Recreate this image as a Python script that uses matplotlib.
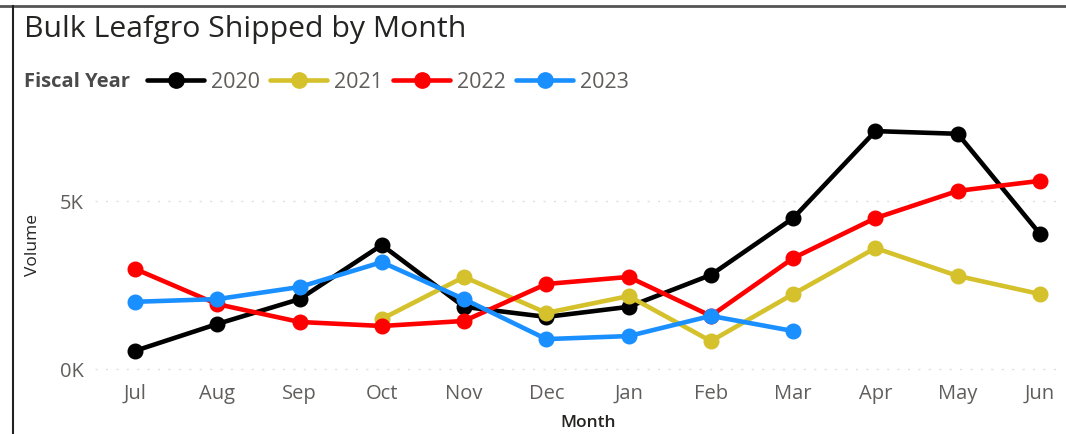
import matplotlib
matplotlib.use("Agg")
import matplotlib.pyplot as plt
from matplotlib.lines import Line2D

months = ["Jul", "Aug", "Sep", "Oct", "Nov", "Dec", "Jan", "Feb", "Mar", "Apr", "May", "Jun"]

# volumes in thousands (None = no data)
fy2020 = [0.54, 1.34, 2.08, 3.69, 1.85, 1.55, 1.85, 2.80, 4.49, 7.08, 7.00, 4.02]
fy2021 = [None, None, None, 1.49, 2.74, 1.67, 2.17, 0.83, 2.23, 3.60, 2.77, 2.23]
fy2022 = [2.98, 1.93, 1.40, 1.28, 1.43, 2.53, 2.74, 1.58, 3.30, 4.49, 5.30, 5.60]
fy2023 = [2.00, 2.08, 2.44, 3.18, 2.08, 0.89, 0.98, 1.58, 1.13]

years = ["2020", "2021", "2022", "2023"]
series = [fy2020, fy2021, fy2022, fy2023]
colors = ["#000000", "#D4C12C", "#FF0000", "#1A8FFF"]

W, H = 1066, 435
fig = plt.figure(figsize=(W / 100, H / 100), dpi=100)
fig.patch.set_facecolor("white")

# plot area in pixels: left, right, top, bottom
L, R, T, B = 95, 1058, 110, 378
ax = fig.add_axes([L / W, 1 - B / H, (R - L) / W, (B - T) / H])

x0, dx = 135, 82.27
ax.set_xlim((L - x0) / dx, (R - x0) / dx)
y0, dy = 370, 33.6
ax.set_ylim(-(B - y0) / dy, (y0 - T) / dy)

for yr, vals, c in zip(years, series, colors):
    xs = [i for i, v in enumerate(vals) if v is not None]
    ys = [v for v in vals if v is not None]
    ax.plot(xs, ys, color=c, lw=3.3, marker="o", ms=10.5, label=yr,
            solid_capstyle="round", zorder=3)

ax.set_xticks(range(len(months)))
ax.set_xticklabels(months)
ax.set_yticks([0, 5])
ax.set_yticklabels(["0K", "5K"])
ax.tick_params(length=0, labelsize=14.5, labelcolor="#605E5C")
ax.tick_params(axis="x", pad=4)
ax.tick_params(axis="y", pad=8)
for lab in ax.get_xticklabels() + ax.get_yticklabels():
    lab.set_family("Open Sans")
ax.grid(axis="y", color="#E1DFDD", ls=(0, (1.5, 6)), lw=1)
for s in ax.spines.values():
    s.set_visible(False)

fig.text(33 / W, 1 - 245 / H, "Volume", rotation=90, ha="center", va="center",
         fontsize=12.5, color="#252423", family="Open Sans")
fig.text(588 / W, 1 - 423 / H, "Month", ha="center", va="center",
         fontsize=12.5, color="#252423", family="Open Sans", weight="semibold")

fig.text(24 / W, 1 - 29 / H, "Bulk Leafgro Shipped by Month", ha="left", va="center",
         fontsize=21.8, color="#252423", family="Open Sans")
fig.text(24 / W, 1 - 82 / H, "Fiscal Year", ha="left", va="center",
         fontsize=14.5, color="#4A4A4A", family="Open Sans", weight="bold")

fig.legend(loc="center left", bbox_to_anchor=(147 / W, 1 - 83 / H), ncol=4,
           frameon=False, handlelength=2.65, handletextpad=0.3,
           columnspacing=0.5, borderpad=0, borderaxespad=0, markerscale=1.05,
           prop={"family": "Open Sans", "size": 15.5}, labelcolor="#605E5C")

# report frame edges (top and left)
fig.add_artist(Line2D([0, 1], [1 - 7 / H, 1 - 7 / H], color="#555555", lw=2))
fig.add_artist(Line2D([13 / W, 13 / W], [0, 1 - 7 / H], color="#222222", lw=1.5))

fig.savefig("out.png", dpi=100)
